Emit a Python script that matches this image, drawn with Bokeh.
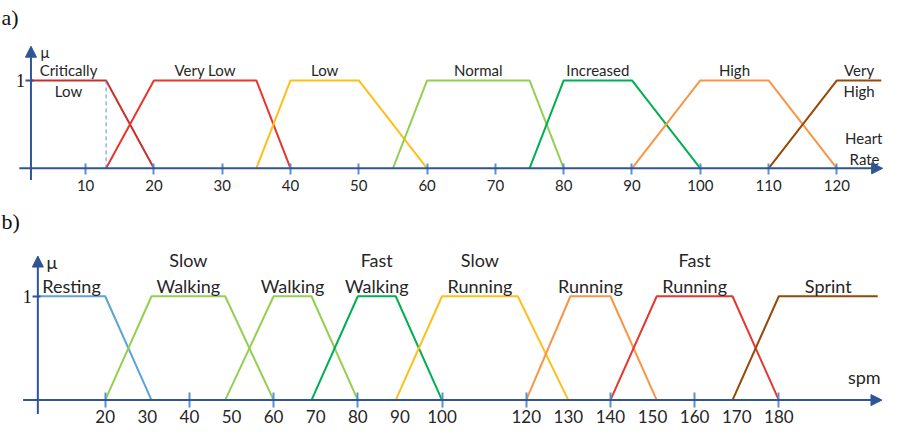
from bokeh.plotting import figure
from bokeh.models import LinearAxis, FixedTicker, Arrow, NormalHead, Range1d, ColumnDataSource
from bokeh.layouts import column
from bokeh.embed import file_html
from bokeh.resources import INLINE
from bokeh.core.properties import value

# ---------------- data: heart rate (panel a) ----------------
hr_names = ["Critically\nLow", "Very Low", "Low", "Normal", "Increased", "High", "Very\nHigh"]
hr_a = [2, 13, 35, 55, 75, 90, 110]
hr_b = [2, 20, 40, 60, 80, 100, 120]
hr_c = [13, 35, 50, 75, 90, 110, 126.5]
hr_d = [20, 40, 60, 80, 100, 120, 126.5]
hr_colors = ["#c8302a", "#e6362e", "#ffbf1a", "#92d050", "#00b050", "#f79646", "#984807"]
hr_ticks = [10, 20, 30, 40, 50, 60, 70, 80, 90, 100, 110, 120]

# ---------------- data: steps per minute (panel b) ----------------
spm_names = ["Resting", "Slow\nWalking", "Walking", "Fast\nWalking", "Slow\nRunning",
             "Running", "Fast\nRunning", "Sprint"]
spm_a = [4, 20, 48.5, 69, 89, 120, 140, 169]
spm_b = [4, 31, 60, 80, 100, 130.5, 151, 180]
spm_c = [20, 48.5, 69, 89, 118, 140, 169, 203.5]
spm_d = [31, 60, 80, 100, 130, 151, 180, 203.5]
spm_colors = ["#5ba3d9", "#92d050", "#92d050", "#00b050", "#ffbf1a", "#f79646", "#e6362e", "#984807"]
spm_label_ticks = [20, 30, 40, 50, 60, 70, 80, 90, 100, 120, 130, 140, 150, 160, 170, 180]
spm_mark_ticks = [20, 40, 60, 80, 100, 120, 140, 160, 180]

AXIS = "#2f5597"
TICK = "#5b8fd6"
TEXT = "#262626"
SANS = "Lato"
SERIF = "Liberation Serif"


def trapezoid(a, b, c, d):
    xs, ys = [], []
    if a < b:
        xs.append(a); ys.append(0)
    xs.append(b); ys.append(1)
    xs.append(c); ys.append(1)
    if d > c:
        xs.append(d); ys.append(0)
    return xs, ys


def base_figure(title, height, xr, yr):
    p = figure(width=884, height=height, x_range=Range1d(*xr), y_range=Range1d(*yr),
               toolbar_location=None, output_backend="svg",
               x_axis_location=None, y_axis_location=None,
               min_border_left=0, min_border_right=0, min_border_top=0, min_border_bottom=0,
               outline_line_color=None, title=title)
    p.grid.visible = False
    p.title.align = "left"
    p.title.text_font = SERIF
    p.title.text_font_style = "normal"
    p.title.text_font_size = "22px"
    p.title.text_color = "#111111"
    p.title.offset = 1
    p.title.standoff = 4
    return p


def add_axes(p, x0, xticker, label_size, standoff, ytop, ybot, xstart, xend):
    yaxis = LinearAxis(fixed_location=x0, ticker=FixedTicker(ticks=[1]),
                       axis_line_color=None,
                       major_tick_line_color=AXIS, major_tick_line_width=2,
                       major_tick_out=5, major_tick_in=3,
                       minor_tick_line_color=None,
                       major_label_text_font=SERIF, major_label_text_font_size="18px",
                       major_label_text_color="#111111", major_label_standoff=1)
    p.add_layout(yaxis, "left")
    xaxis = LinearAxis(fixed_location=0, ticker=xticker,
                       axis_line_color=None,
                       major_label_text_font=SANS, major_label_text_font_size=label_size,
                       major_label_text_color=TEXT, major_label_standoff=standoff)
    p.add_layout(xaxis, "below")
    head = dict(size=11, fill_color=AXIS, line_color=AXIS)
    p.add_layout(Arrow(end=NormalHead(**head), x_start=x0, y_start=ybot, x_end=x0, y_end=ytop,
                       line_color=AXIS, line_width=2))
    p.add_layout(Arrow(end=NormalHead(**head), x_start=xstart, y_start=0, x_end=xend, y_end=0,
                       line_color=AXIS, line_width=2))
    return xaxis


def add_sets(p, names, A, B, C, D, colors, font_size, two_line_mode):
    tx, ty, tt, toff = [], [], [], []
    for n, a, b, c, d, col in zip(names, A, B, C, D, colors):
        xs, ys = trapezoid(a, b, c, d)
        p.line(xs, ys, line_color=col, line_width=2)
        lines = n.split("\n")
        if len(lines) == 1:
            offs = [-10]
        elif two_line_mode == "split":
            offs = [-10, 11]
        else:
            offs = [-36, -10]
        for ln, o in zip(lines, offs):
            tx.append((b + c) / 2); ty.append(1); tt.append(ln); toff.append(o)
    src = ColumnDataSource(dict(x=tx, y=ty, text=tt, off=toff))
    p.text(x="x", y="y", text="text", y_offset="off", source=src,
           text_font=value(SANS), text_font_size=font_size, text_color=TEXT,
           text_align="center", text_baseline="middle")


# ---------------- panel a ----------------
XR_A = (-2.46, 126.97)
pa = base_figure("a)", 204, XR_A, (-0.411, 1.556))
tk_a = FixedTicker(ticks=hr_ticks)
xa = add_axes(pa, 2, tk_a, "15px", 6, 1.389, -0.133, 0.3, 126.7)
xa.major_tick_line_color = TICK
xa.major_tick_line_width = 2
xa.major_tick_in = 5
xa.major_tick_out = 6
xa.minor_tick_line_color = None
add_sets(pa, hr_names, hr_a, hr_b, hr_c, hr_d, hr_colors, "15px", "split")
pa.segment(x0=[hr_c[0]], y0=[0], x1=[hr_c[0]], y1=[1], line_color=TICK, line_width=1, line_dash="4 3")
pa.text(x=[2], y=[1.389], text=["μ"], x_offset=14, y_offset=6, text_font=value(SANS),
        text_font_size="15px", text_color=TEXT, text_align="center", text_baseline="middle")
pa.text(x=[XR_A[1], XR_A[1]], y=[0, 0], text=["Heart", "Rate"], y_offset=[-30, -9],
        x_offset=[-2, -5],
        text_font=value(SANS), text_font_size="15px", text_color=TEXT,
        text_align="right", text_baseline="middle")

# ---------------- panel b ----------------
pb = base_figure("b)", 223, (-4.87, 205.1), (-0.264, 1.585))
tk_b = FixedTicker(ticks=spm_label_ticks, minor_ticks=spm_mark_ticks)
xb = add_axes(pb, 4, tk_b, "17px", 3, 1.387, -0.135, 0.5, 204.5)
xb.major_tick_line_color = None
xb.major_tick_out = 7
xb.minor_tick_line_color = TICK
xb.minor_tick_line_width = 2
xb.minor_tick_in = 8
xb.minor_tick_out = 7
add_sets(pb, spm_names, spm_a, spm_b, spm_c, spm_d, spm_colors, "18px", "stack")
pb.text(x=[4], y=[1.387], text=["μ"], x_offset=14, y_offset=6, text_font=value(SANS),
        text_font_size="18px", text_color=TEXT, text_align="center", text_baseline="middle")
pb.text(x=[200.3], y=[0], text=["spm"], y_offset=-23, text_font=value(SANS),
        text_font_size="18px", text_color=TEXT, text_align="center", text_baseline="middle")

layout = column(pa, pb)
open("out.html", "w").write(file_html(layout, INLINE))
